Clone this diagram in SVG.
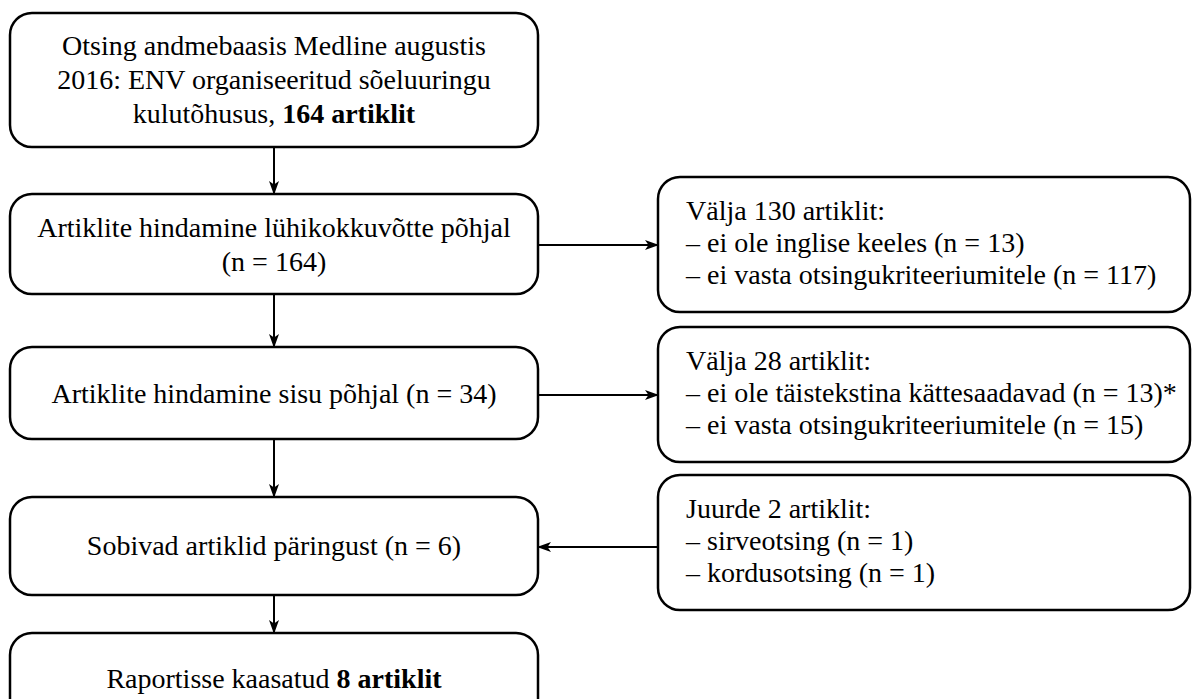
<svg xmlns="http://www.w3.org/2000/svg" width="1200" height="699" viewBox="0 0 1200 699">
<defs>
<style>
.box{fill:#fff;stroke:#000;stroke-width:2.5}
.t{font-family:"Liberation Serif","Times New Roman",serif;font-size:28px;fill:#000}
.c{text-anchor:middle}
.b{font-weight:bold}
.ln{stroke:#000;stroke-width:2;fill:none;marker-end:url(#ah)}
</style>
<marker id="ah" viewBox="0 0 14 10" refX="13" refY="5" markerWidth="14" markerHeight="10" markerUnits="userSpaceOnUse" orient="auto">
<path d="M0,0 L14,5 L0,10 L3.5,5 z" fill="#000"/>
</marker>
</defs>
<rect width="1200" height="699" fill="#fff"/>
<g id="connectors">
<line class="ln" x1="274" y1="147" x2="274" y2="194"/>
<line class="ln" x1="274" y1="294" x2="274" y2="347"/>
<line class="ln" x1="274" y1="439" x2="274" y2="497"/>
<line class="ln" x1="274" y1="595" x2="274" y2="633"/>
<line class="ln" x1="538" y1="245" x2="658" y2="245"/>
<line class="ln" x1="538" y1="395" x2="658" y2="395"/>
<line class="ln" x1="658" y1="547" x2="538" y2="547"/>
</g>
<g id="n1">
<rect class="box" x="10" y="13" width="528" height="134" rx="22"/>
<text class="t c" x="274" y="55">Otsing andmebaasis Medline augustis</text>
<text class="t c" x="274" y="89">2016: ENV organiseeritud sõeluuringu</text>
<text class="t c" x="274" y="123">kulutõhusus, <tspan class="b">164 artiklit</tspan></text>
</g>
<g id="n2">
<rect class="box" x="10" y="194" width="528" height="100" rx="22"/>
<text class="t c" x="274" y="237">Artiklite hindamine lühikokkuvõtte põhjal</text>
<text class="t c" x="274" y="271">(n = 164)</text>
</g>
<g id="n3">
<rect class="box" x="10" y="347" width="528" height="92" rx="22"/>
<text class="t c" x="274" y="403">Artiklite hindamine sisu põhjal (n = 34)</text>
</g>
<g id="n4">
<rect class="box" x="10" y="497" width="528" height="98" rx="22"/>
<text class="t c" x="274" y="555">Sobivad artiklid päringust (n = 6)</text>
</g>
<g id="n5">
<rect class="box" x="10" y="633" width="528" height="90" rx="22"/>
<text class="t c" x="274" y="688">Raportisse kaasatud <tspan class="b">8 artiklit</tspan></text>
</g>
<g id="r1">
<rect class="box" x="658" y="177" width="532" height="135" rx="22"/>
<text class="t" x="686" y="220">Välja 130 artiklit:</text>
<text class="t" x="686" y="252">– ei ole inglise keeles (n = 13)</text>
<text class="t" x="686" y="284">– ei vasta otsingukriteeriumitele (n = 117)</text>
</g>
<g id="r2">
<rect class="box" x="658" y="327" width="532" height="135" rx="22"/>
<text class="t" x="686" y="370">Välja 28 artiklit:</text>
<text class="t" x="686" y="402">– ei ole täistekstina kättesaadavad (n = 13)*</text>
<text class="t" x="686" y="434">– ei vasta otsingukriteeriumitele (n = 15)</text>
</g>
<g id="r3">
<rect class="box" x="658" y="475" width="532" height="135" rx="22"/>
<text class="t" x="686" y="518">Juurde 2 artiklit:</text>
<text class="t" x="686" y="550">– sirveotsing (n = 1)</text>
<text class="t" x="686" y="582">– kordusotsing (n = 1)</text>
</g>
</svg>
